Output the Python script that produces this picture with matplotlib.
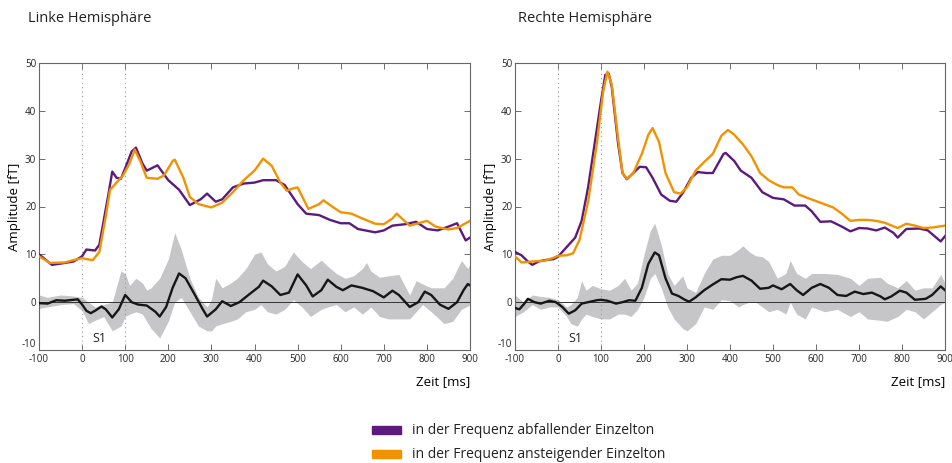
import matplotlib
matplotlib.use("Agg")
import matplotlib.pyplot as plt
import numpy as np

plt.rcParams['font.family'] = ['Open Sans', 'DejaVu Sans']
plt.rcParams['axes.unicode_minus'] = False

# ---- linke Hemisphaere ----
l_purple_t = [-100, -70, -40, -20, 0, 10, 30, 40, 60, 70, 80, 90, 100, 115, 125, 140, 150, 175, 200,
              225, 250, 275, 290, 310, 325, 350, 375, 400, 420, 450, 470, 500, 520, 550, 575, 600,
              620, 640, 680, 700, 720, 750, 775, 800, 825, 850, 870, 890, 900]
l_purple_v = [10, 7.8, 8.2, 8.5, 9.6, 11, 10.8, 12, 22, 27.3, 26.0, 25.8, 28, 31.5, 32.3, 29, 27.5,
              28.6, 25.5, 23.5, 20.3, 21.5, 22.7, 21, 21.5, 24, 24.8, 25, 25.5, 25.5, 24.5, 20.5,
              18.5, 18.2, 17.2, 16.5, 16.5, 15.3, 14.6, 15, 16, 16.3, 16.8, 15.3, 15, 15.8, 16.5,
              12.9, 13.5]

l_orange_t = [-100, -75, -40, -20, 0, 10, 25, 40, 55, 65, 80, 95, 110, 122, 135, 150, 175, 190, 210,
              215, 235, 250, 270, 300, 325, 350, 375, 400, 420, 440, 460, 475, 490, 500, 525, 550,
              560, 580, 600, 625, 650, 680, 700, 720, 730, 760, 780, 800, 820, 850, 870, 900]
l_orange_v = [9.6, 8.2, 8.3, 8.8, 9.2, 9.0, 8.8, 10.5, 18, 23.5, 25, 26.5, 29, 31.9, 29.5, 26, 25.8,
              26.5, 29.5, 29.8, 26, 22, 20.5, 19.8, 20.8, 23, 25.5, 27.5, 30.0, 28.5, 25, 23.3, 23.8,
              24, 19.5, 20.5, 21.3, 20, 18.8, 18.5, 17.5, 16.4, 16.3, 17.5, 18.5, 16.0, 16.5, 17.0,
              15.8, 15.2, 15.5, 17]

l_diff_t = [-100, -80, -60, -40, -20, -10, 0, 10, 20, 30, 45, 55, 70, 85, 100, 115, 130, 150, 170,
            180, 195, 210, 225, 240, 260, 280, 290, 310, 325, 345, 365, 390, 410, 420, 440, 460, 480,
            500, 520, 535, 555, 570, 590, 605, 625, 650, 675, 700, 720, 735, 760, 780, 795, 810, 830,
            850, 870, 885, 895, 900]
l_diff_v = [-0.2, -0.3, 0.4, 0.3, 0.5, 0.6, -0.5, -1.8, -2.3, -1.8, -0.9, -1.5, -3.2, -1.5, 1.5, 0,
            -0.5, -0.7, -2, -3, -1, 3, 6, 5, 1.8, -1.5, -3, -1.5, 0.2, -0.8, 0, 1.8, 3.2, 4.5, 3.3,
            1.5, 2, 5.8, 3.5, 1.2, 2.5, 4.7, 3.2, 2.5, 3.5, 3, 2.3, 1, 2.4, 1.5, -1.0, 0, 2.2, 1.5,
            -0.5, -1.4, 0, 2.5, 3.8, 3.5]

l_band_t = [-100, -80, -50, -20, 0, 15, 30, 50, 70, 90, 100, 110, 125, 140, 150, 160, 180, 200,
            215, 230, 250, 270, 290, 300, 310, 325, 345, 360, 380, 400, 415, 430, 450, 470, 490,
            510, 530, 555, 570, 590, 610, 630, 650, 660, 670, 690, 710, 735, 760, 775, 790, 810,
            840, 860, 880, 895, 900]
l_band_hi = [1.5, 1.0, 1.5, 1.3, 1.0, 0, -1, -0.5, 0, 6.5, 6.0, 3.5, 5, 4, 2.5, 3, 5, 9, 14.5,
             11, 5, 1, -1, 0.5, 5, 3, 4, 5, 7, 10, 10.5, 8, 6.5, 7.5, 10.5, 8.5, 7, 8.8, 7.5, 6, 5,
             5.5, 7, 8.3, 6.5, 5.2, 5.5, 5.8, 1.5, 4.5, 3.8, 3, 3, 5, 8.7, 7, 8]
l_band_lo = [-1.3, -1.0, -0.5, -0.3, -1.8, -4.5, -3.8, -3, -6, -5, -3, -2.5, -2, -2.5, -4, -5.5,
             -7.5, -4, 0, 1, -2, -5, -6, -6, -5, -4.5, -4, -3.5, -2, -1.5, -0.5, -2, -2.5, -1.5,
             0.5, -1, -3, -1.5, -1, -0.5, -2, -1, -2.5, -1.8, -1, -3, -3.5, -3.5, -3.5, -2, -0.5,
             -2, -4.5, -4, -1.5, -0.8, -0.5]

# ---- rechte Hemisphaere ----
r_purple_t = [-100, -85, -70, -60, -45, -30, -10, 0, 10, 25, 40, 55, 70, 85, 100, 110, 118, 125,
              140, 150, 160, 175, 190, 205, 220, 240, 260, 275, 290, 310, 325, 345, 360, 385, 390,
              410, 425, 450, 475, 500, 525, 550, 575, 590, 610, 635, 660, 680, 700, 720, 740, 760,
              780, 790, 810, 840, 860, 890, 900]
r_purple_v = [10.5, 9.8, 8.5, 7.8, 8.5, 8.8, 9.0, 9.5, 10.5, 12, 13.5, 17, 24, 33, 42, 47.5, 47.8,
              45, 33, 27, 25.7, 27, 28.3, 28.2, 26, 22.5, 21.2, 21, 22.8, 26, 27.2, 27, 27, 31,
              31.2, 29.5, 27.5, 26, 23, 21.8, 21.5, 20.2, 20.2, 19, 16.8, 16.9, 15.8, 14.8, 15.5,
              15.4, 15, 15.6, 14.5, 13.5, 15.3, 15.4, 15.0, 12.7, 13.8]

r_orange_t = [-100, -85, -60, -30, -10, 0, 20, 35, 50, 70, 90, 105, 115, 125, 140, 150, 160, 175,
              195, 210, 220, 235, 250, 270, 285, 300, 320, 340, 360, 380, 395, 410, 430, 450, 470,
              490, 510, 525, 545, 560, 580, 610, 640, 660, 680, 700, 720, 740, 760, 790, 810, 830,
              850, 870, 900]
r_orange_v = [9.6, 8.3, 8.5, 8.7, 9.3, 9.7, 9.8, 10.2, 13, 21, 33, 44, 48.2, 45.5, 34, 27, 25.8, 27,
              31, 35, 36.4, 33.5, 27, 23, 22.7, 24, 27.5, 29.3, 31, 34.8, 36.0, 35, 33, 30.5, 27,
              25.5, 24.5, 24, 24, 22.5, 21.8, 20.8, 19.8, 18.5, 17, 17.2, 17.2, 17, 16.6, 15.5,
              16.4, 16, 15.5, 15.6, 16]

r_diff_t = [-100, -90, -80, -70, -55, -40, -20, -5, 10, 25, 40, 55, 70, 90, 100, 115, 135, 150,
            165, 180, 195, 210, 225, 235, 250, 265, 280, 295, 305, 320, 340, 360, 380, 400, 415,
            430, 450, 470, 490, 500, 520, 540, 555, 570, 590, 610, 630, 650, 670, 690, 710, 730,
            750, 760, 775, 795, 810, 830, 855, 870, 890, 900]
r_diff_v = [-1.2, -1.5, -0.5, 0.7, 0, -0.3, 0.3, 0, -1, -2.4, -1.7, -0.3, 0, 0.4, 0.5, 0.3, -0.3,
            0, 0.4, 0.3, 3, 8, 10.4, 9.8, 5, 1.8, 1.3, 0.5, 0.1, 1, 2.5, 3.7, 4.8, 4.7, 5.2, 5.5,
            4.5, 2.8, 3.0, 3.5, 2.7, 3.8, 2.5, 1.5, 3, 3.8, 3, 1.5, 1.3, 2.2, 1.7, 2, 1.2, 0.6,
            1.2, 2.4, 2, 0.5, 0.7, 1.5, 3.3, 2.5]

r_band_t = [-100, -80, -60, -40, -20, 0, 20, 30, 45, 55, 65, 80, 100, 120, 140, 155, 170, 185,
            200, 215, 225, 240, 255, 270, 290, 300, 320, 340, 360, 380, 400, 420, 430, 445, 460,
            475, 490, 510, 530, 540, 555, 575, 590, 620, 650, 680, 700, 720, 750, 765, 790, 810,
            830, 850, 870, 890, 900]
r_band_hi = [1.5, 0, 1.5, 1.2, 1.0, 0.5, -1, -0.5, 1, 4.5, 2.5, 3.5, 2.8, 2.5, 3.5, 5, 2.5, 4, 10,
             15, 16.5, 12, 6, 3.5, 5.5, 3, 2, 6, 9, 9.8, 9.8, 11, 11.8, 10.5, 9.7, 9.5, 8.5, 5, 6,
             8.7, 6, 5, 6, 6, 5.8, 5, 3.5, 5, 5.2, 4, 3, 4.5, 2.5, 3, 3, 5.8, 4]
r_band_lo = [-3, -2, -0.5, -1.5, -1, -1, -3, -4.5, -5, -3.5, -2.5, -3, -3.5, -3.5, -2.5, -2.5, -3,
             -1.5, 1, 5, 6, 3, -1, -3.5, -5.5, -6, -4.5, -1, -1.5, 0.5, 0.3, -1, -0.5, 0, 0, -1,
             -2, -1.5, -2.5, 0, -2.5, -3.5, -1, -2, -1.5, -3, -2, -3.5, -3.8, -4, -3, -1.5, -2,
             -3.5, -2, -0.5, 0]

titles = ['Linke Hemisphäre', 'Rechte Hemisphäre']
legend_labels = ['in der Frequenz abfallender Einzelton', 'in der Frequenz ansteigender Einzelton']

purple = '#5c1a7e'
orange = '#f39200'
band = '#c6c6c8'

fig = plt.figure(figsize=(9.52, 4.63), dpi=100)
ax_l = fig.add_axes([39 / 952, 1 - 350 / 463, 431 / 952, 287 / 463])
ax_r = fig.add_axes([515 / 952, 1 - 350 / 463, 430 / 952, 287 / 463])

panels = [
    (ax_l, l_purple_t, l_purple_v, l_orange_t, l_orange_v, l_diff_t, l_diff_v, l_band_t, l_band_hi, l_band_lo),
    (ax_r, r_purple_t, r_purple_v, r_orange_t, r_orange_v, r_diff_t, r_diff_v, r_band_t, r_band_hi, r_band_lo),
]
title_x = [28, 518]

for i, (ax, pt, pv, ot, ov, dt, dv, bt, bhi, blo) in enumerate(panels):
    ax.fill_between(bt, blo, bhi, color=band, lw=0, zorder=1)
    ax.axhline(0, color='#333333', lw=0.7, zorder=2)
    ax.axvline(0, color='#999999', lw=0.8, ls=(0, (1, 3)), zorder=2)
    ax.axvline(100, color='#999999', lw=0.8, ls=(0, (1, 3)), zorder=2)
    ax.plot(dt, dv, color='#161616', lw=1.7, zorder=3, solid_joinstyle='round')
    ax.plot(pt, pv, color=purple, lw=1.7, zorder=4, solid_joinstyle='round')
    ax.plot(ot, ov, color=orange, lw=1.7, zorder=5, solid_joinstyle='round')

    ax.set_xlim(-100, 900)
    ax.set_ylim(-10, 50)
    ax.set_xticks(np.arange(-100, 901, 100))
    ax.set_yticks(np.arange(-10, 51, 10))
    ax.tick_params(direction='in', length=4, width=0.6, colors='#555555', labelcolor='#222222',
                   labelsize=7, top=True, right=True, pad=2)
    ax.tick_params(axis='x', pad=3)
    ax.get_yticklabels()[0].set_va('bottom')
    for s in ax.spines.values():
        s.set_color('#666666')
        s.set_linewidth(0.8)
    ax.set_ylabel('Amplitude [fT]', fontsize=9.5)
    ax.yaxis.set_label_coords(-18 / 431, 0.5)
    ax.set_xlabel('Zeit [ms]', fontsize=9.5, loc='right', labelpad=7)
    ax.text(40, -7.6, 'S1', fontsize=9, ha='center', va='center', color='#222222')
    fig.text(title_x[i] / 952, 1 - 18 / 463, titles[i], fontsize=10.5, ha='left', va='center',
             color='#222222')

# legend
for k, (col, lab) in enumerate(zip([purple, orange], legend_labels)):
    y = 1 - (430 + 24 * k) / 463
    fig.patches.append(plt.Rectangle((372 / 952, y - 4 / 463), 29 / 952, 8 / 463,
                                     transform=fig.transFigure, color=col, figure=fig))
    fig.text(412 / 952, y, lab, fontsize=10, va='center', ha='left', color='#222222')

fig.savefig('out.png', dpi=100)
